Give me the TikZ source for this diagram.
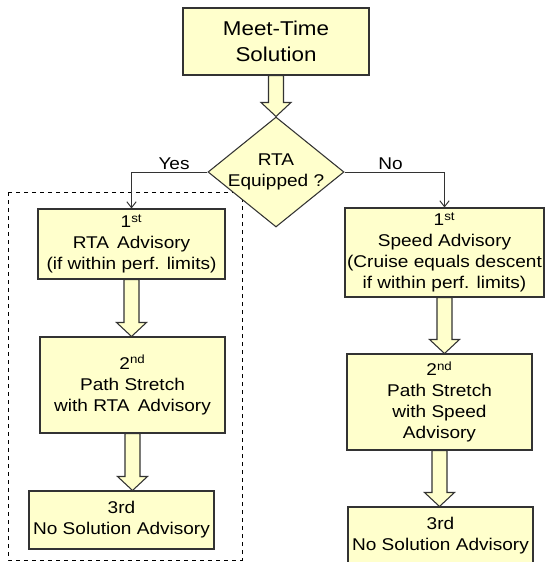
\documentclass[tikz,border=0pt]{standalone}
\usepackage{fontspec}
\setmainfont[FakeStretch=1.12]{Liberation Sans}
\usetikzlibrary{shapes.geometric, calc, arrows.meta}
\definecolor{boxfill}{HTML}{FFFFCC}
\definecolor{edge}{HTML}{333333}
\newcommand{\bodyfont}{\fontsize{12.75}{15.75}\selectfont}
\newcommand{\titlefont}{\fontsize{15}{19.5}\selectfont}
% hollow block arrow from the bottom of one box to the top of the next
\newcommand{\fatarrow}[2]{%
  \draw[fatarr] ($(#1.south)+(-7.5,0)$) -- ($(#1.south |- #2.north)+(-7.5,-14)$)
    -- ($(#1.south |- #2.north)+(-15,-14)$) -- (#1.south |- #2.north)
    -- ($(#1.south |- #2.north)+(15,-14)$) -- ($(#1.south |- #2.north)+(7.5,-14)$)
    -- ($(#1.south)+(7.5,0)$) -- cycle;}

\begin{document}
\begin{tikzpicture}[x=0.75pt, y=-0.75pt,
    >={Straight Barb[length=4.5pt,width=7pt]},
    box/.style={draw=edge, fill=boxfill, line width=0.8pt, inner sep=0pt,
      align=center, font=\bodyfont},
    decision/.style={diamond, draw=edge, fill=boxfill, line width=0.8pt,
      inner sep=0pt, minimum width=102pt, minimum height=82.5pt},
    fatarr/.style={draw=edge, fill=boxfill, line width=0.8pt},
    lbl/.style={font=\bodyfont, inner sep=1.5pt},
    link/.style={draw=edge, line width=0.7pt}]
    \useasboundingbox (0,0) rectangle (545,562);

    % Yes branch group
    \draw[dashed, line width=0.6pt] (8,192) rectangle (242,560);

    % Start and decision
    \node[box, font=\titlefont, minimum width=139.5pt, minimum height=50.25pt]
        (sol) at (276,41.5) {Meet-Time\\Solution};
    \node[decision, label={[font=\bodyfont, align=center]center:{RTA\\Equipped ?}}]
        (rta) at (276,172) {};

    % Yes column
    \node[box, minimum width=140.25pt, minimum height=52.5pt]
        (rta1) at (131.5,244) {1\textsuperscript{st}\\RTA\,\ Advisory\\(if within perf. limits)};
    \node[box, minimum width=138.75pt, minimum height=72pt]
        (rta2) at (132.5,385) {2\textsuperscript{nd}\\Path Stretch\\with RTA\,\ Advisory};
    \node[box, minimum width=138.75pt, minimum height=43.5pt]
        (rta3) at (121.5,520) {3rd\\No Solution Advisory};

    % No column
    \node[box, minimum width=149.25pt, minimum height=66.75pt]
        (spd1) at (444.5,252.5) {1\textsuperscript{st}\\Speed Advisory\\(Cruise equals descent\\if within perf. limits)};
    \node[box, minimum width=138.75pt, minimum height=72pt]
        (spd2) at (439.5,402) {2\textsuperscript{nd}\\Path Stretch\\with Speed\\Advisory};
    \node[box, minimum width=138.75pt, minimum height=43.5pt]
        (spd3) at (440.5,536) {3rd\\No Solution Advisory};

    % Connectors
    \fatarrow{sol}{rta}
    \draw[link, ->] (rta.west) -| node[lbl, pos=0.22, above] (yes) {Yes} (rta1.north);
    \draw[link, ->] (rta.east) -| node[lbl, pos=0.23, above] (no) {No} (spd1.north);
    \fatarrow{rta1}{rta2}
    \fatarrow{rta2}{rta3}
    \fatarrow{spd1}{spd2}
    \fatarrow{spd2}{spd3}
\end{tikzpicture}
\end{document}
